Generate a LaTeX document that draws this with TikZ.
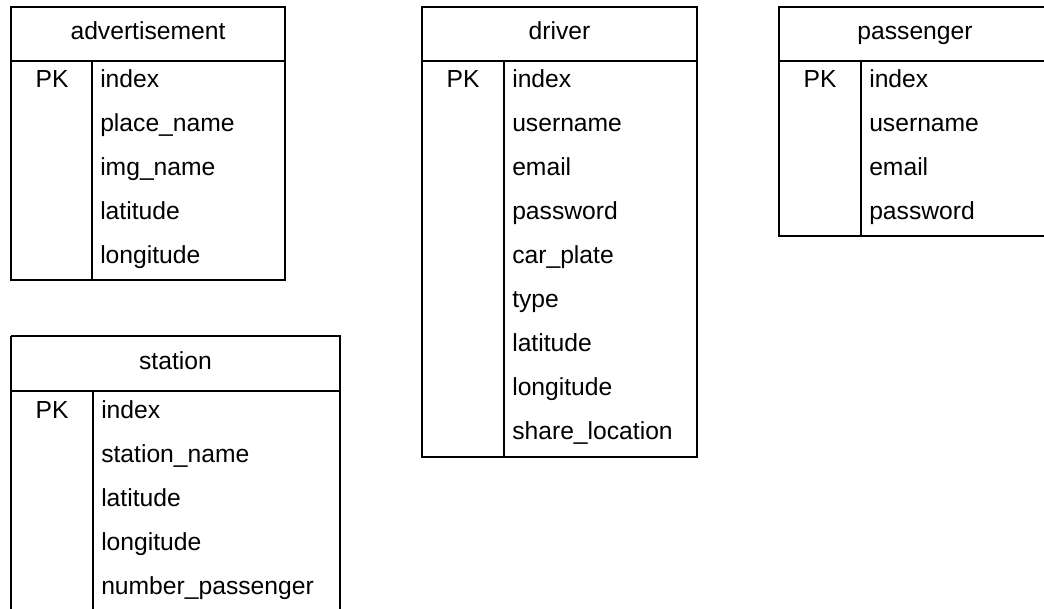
\documentclass[tikz,border=0pt]{standalone}
\usepackage{fontspec}
\setmainfont{Liberation Sans}
\usepackage{tikz}

\begin{document}
\begin{tikzpicture}[x=0.75pt,y=0.75pt,yscale=-1,xscale=1,
    tablebox/.style={line width=1.6pt},
    title/.style={anchor=base,inner sep=0.75pt,font=\fontsize{18.5}{20}\selectfont},
    field/.style={anchor=base west,inner sep=0.75pt,font=\fontsize{18.5}{20}\selectfont},
    key/.style={anchor=base,inner sep=0.75pt,font=\fontsize{18.5}{20}\selectfont}]
    \useasboundingbox (0,0) rectangle (1044,609);

    %Table advertisement
    \draw [tablebox] (11,7) rectangle (285,280) ;
    \draw [tablebox] (11,61) -- (285,61) ;
    \draw [tablebox] (92,61) -- (92,280) ;
    %Table station
    \draw [tablebox] (11,336) -- (340,336) -- (340,615) (11,615) -- (11,336) ;
    \draw [tablebox] (11,391) -- (340,391) ;
    \draw [tablebox] (93,391) -- (93,615) ;
    %Table driver
    \draw [tablebox] (422,7) rectangle (697,457) ;
    \draw [tablebox] (422,61) -- (697,61) ;
    \draw [tablebox] (504,61) -- (504,457) ;
    %Table passenger
    \draw [tablebox] (1050,7) -- (779,7) -- (779,236) -- (1050,236) ;
    \draw [tablebox] (779,61) -- (1050,61) ;
    \draw [tablebox] (861,61) -- (861,236) ;

    % Text Node
    \node [title] (adtitle) at (148,39.5) {advertisement};
    % Text Node
    \node [key] (adpk) at (52,87.5) {PK};
    % Text Node
    \node [field] (adindex) at (99,87.5) {index};
    % Text Node
    \node [field] (adplace) at (99,131.5) {place\_name};
    % Text Node
    \node [field] (adimg) at (99,175.5) {img\_name};
    % Text Node
    \node [field] (adlat) at (99,219.5) {latitude};
    % Text Node
    \node [field] (adlon) at (99,263.5) {longitude};

    % Text Node
    \node [title] (sttitle) at (175.5,369.5) {station};
    % Text Node
    \node [key] (stpk) at (52,418) {PK};
    % Text Node
    \node [field] (stindex) at (100,418) {index};
    % Text Node
    \node [field] (stname) at (100,462) {station\_name};
    % Text Node
    \node [field] (stlat) at (100,506) {latitude};
    % Text Node
    \node [field] (stlon) at (100,550) {longitude};
    % Text Node
    \node [field] (stnum) at (100,594) {number\_passenger};

    % Text Node
    \node [title] (drtitle) at (559.5,39.5) {driver};
    % Text Node
    \node [key] (drpk) at (463,87.5) {PK};
    % Text Node
    \node [field] (drindex) at (511,87.5) {index};
    % Text Node
    \node [field] (druser) at (511,131.5) {username};
    % Text Node
    \node [field] (dremail) at (511,175.5) {email};
    % Text Node
    \node [field] (drpass) at (511,219.5) {password};
    % Text Node
    \node [field] (drplate) at (511,263.5) {car\_plate};
    % Text Node
    \node [field] (drtype) at (511,307.5) {type};
    % Text Node
    \node [field] (drlat) at (511,351.5) {latitude};
    % Text Node
    \node [field] (drlon) at (511,395.5) {longitude};
    % Text Node
    \node [field] (drshare) at (511,439.5) {share\_location};

    % Text Node
    \node [title] (patitle) at (915,39.5) {passenger};
    % Text Node
    \node [key] (papk) at (820,87.5) {PK};
    % Text Node
    \node [field] (paindex) at (868,87.5) {index};
    % Text Node
    \node [field] (pauser) at (868,131.5) {username};
    % Text Node
    \node [field] (paemail) at (868,175.5) {email};
    % Text Node
    \node [field] (papass) at (868,219.5) {password};
\end{tikzpicture}
\end{document}
